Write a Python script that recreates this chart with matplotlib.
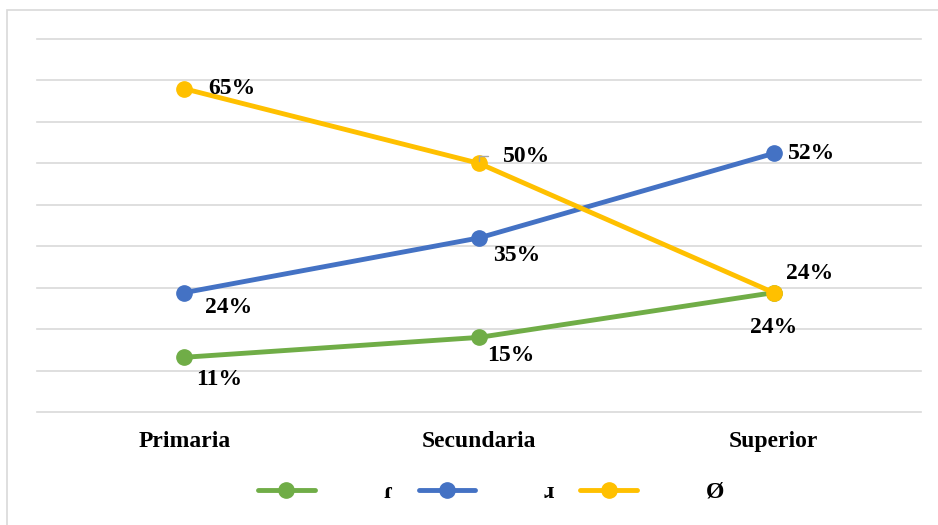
import numpy as np
import matplotlib
matplotlib.use('Agg')
from matplotlib import pyplot as plt
from matplotlib.patches import Rectangle

#== Dados ==#
niveis = ['Primaria', 'Secundaria', 'Superior']
serie_verde = [0.11, 0.15, 0.24]
serie_azul = [0.24, 0.35, 0.52]
serie_amarela = [0.65, 0.50, 0.24]
nomes = ['\u027e', '\u0279', '\u00d8']

cores = ['#70AD47', '#4472C4', '#FFC000']
# deslocamento dos rótulos (pontos)
desloc = [
    [(25, -16), (23, -13), (0, -25)],
    [(32, -11), (27, -13), (27, 0)],
    [(34, 0), (34, 5), (26, 14)],
]

plt.rcParams['font.family'] = ['Liberation Serif', 'DejaVu Sans']
fs = 17

fig = plt.figure(figsize=(9.38, 5.25), dpi=100)
fig.patches.append(Rectangle((7 / 938, -0.01), 1.0, 1 - 10 / 525 + 0.01,
                             transform=fig.transFigure, fill=False,
                             edgecolor='#D9D9D9', linewidth=1.2))
ax = fig.add_axes([37 / 938, 1 - 412 / 525, (921 - 37) / 938, (412 - 39) / 525])

x = np.arange(len(niveis))
series = [serie_verde, serie_azul, serie_amarela]
for vals, cor, nome, offs in zip(series, cores, nomes, desloc):
    ax.plot(x, vals, '-o', color=cor, lw=3.5, ms=11, label=nome,
            solid_capstyle='round', zorder=3)
    for xi, v, off in zip(x, vals, offs):
        ax.annotate('{:.0f}%'.format(v * 100), (xi, v), textcoords='offset points',
                    xytext=off, ha='center', va='center', fontsize=fs,
                    fontweight='bold', color='black', zorder=5)

# pequena linha guia do rótulo 50%
ax.annotate('', (1, 0.50), xytext=(1.04, 0.515),
            arrowprops=dict(arrowstyle='-', color='#A6A6A6', lw=1,
                            connectionstyle='angle,angleA=0,angleB=90'))

ax.set_xlim(-0.5, 2.5)
ax.set_ylim(0, 0.75)
ax.set_yticks(np.linspace(0, 0.75, 10))
ax.yaxis.grid(True, color='#D9D9D9', lw=1.2)
for gl in ax.get_ygridlines():
    gl.set_clip_on(False)
ax.set_axisbelow(True)
ax.set_yticklabels([])
ax.tick_params(axis='both', length=0)
ax.set_xticks(x)
ax.set_xticklabels(niveis, fontsize=fs, fontweight='bold')
ax.tick_params(axis='x', pad=14)
for s in ax.spines.values():
    s.set_visible(False)

leg = fig.legend(loc='center', bbox_to_anchor=(0.5 + 22 / 938, 1 - 492 / 525), ncol=3,
                 frameon=False, handlelength=2.4, handletextpad=2.9,
                 columnspacing=1.1, prop={'size': fs, 'weight': 'bold'})

fig.savefig('out.png', dpi=100)
